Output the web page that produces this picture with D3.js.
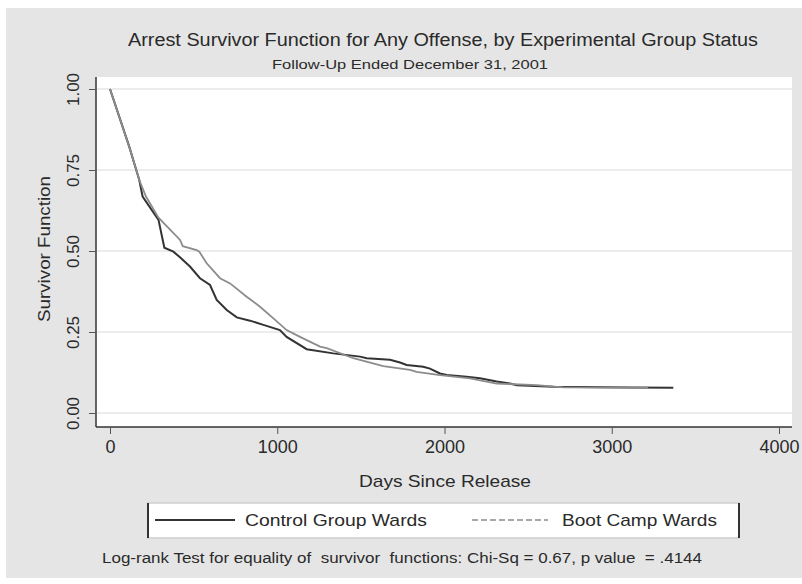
<!DOCTYPE html>
<html>
<head>
<meta charset="utf-8">
<script src="https://cdn.jsdelivr.net/npm/d3@7"></script>
<style>
  body { margin: 0; background: #fff; }
  text { font-family: "Liberation Sans", Arial, sans-serif; fill: #2a2a2a; }
</style>
</head>
<body>
<script>
// Kaplan-Meier survivor curves
let controlDays = [0, 115, 175, 195, 290, 325, 379, 415, 478, 538, 598, 638, 698, 758, 837, 917, 1016, 1056, 1176, 1335, 1495, 1535, 1674, 1734, 1774, 1873, 1913, 1973, 2013, 2132, 2212, 2312, 2392, 2432, 2650, 3109, 3368];
let controlSurv = [1.0, 0.822, 0.719, 0.668, 0.596, 0.51, 0.498, 0.482, 0.452, 0.416, 0.395, 0.349, 0.318, 0.295, 0.285, 0.272, 0.256, 0.235, 0.197, 0.184, 0.174, 0.169, 0.164, 0.156, 0.148, 0.143, 0.137, 0.122, 0.117, 0.112, 0.107, 0.097, 0.091, 0.086, 0.081, 0.079, 0.078];

let bootDays = [0, 115, 175, 215, 290, 419, 435, 518, 534, 578, 658, 718, 817, 897, 977, 1056, 1136, 1256, 1296, 1455, 1634, 1794, 1833, 1973, 2152, 2312, 2551, 2711, 3217];
let bootSurv = [1.0, 0.822, 0.719, 0.668, 0.603, 0.534, 0.515, 0.503, 0.498, 0.462, 0.416, 0.40, 0.359, 0.328, 0.292, 0.256, 0.235, 0.205, 0.200, 0.169, 0.145, 0.133, 0.127, 0.117, 0.107, 0.091, 0.086, 0.079, 0.078];

let xTicks = [0, 1000, 2000, 3000, 4000];
let yTicks = [0, 0.25, 0.5, 0.75, 1];

let seriesNames = ["Control Group Wards", "Boot Camp Wards"];

let WIDTH = 802, HEIGHT = 584;

let svg = d3.select("body").append("svg")
            .attr("width", WIDTH)
            .attr("height", HEIGHT);

// fondo gris del grafico
svg.append("rect")
   .attr("x", 6).attr("y", 8)
   .attr("width", WIDTH - 6).attr("height", 570)
   .attr("fill", "#e5e5e5");

// area del plot
let plotL = 96, plotR = 792, plotT = 77, plotB = 427;
svg.append("rect")
   .attr("x", plotL).attr("y", plotT)
   .attr("width", plotR - plotL).attr("height", plotB - plotT)
   .attr("fill", "#fff");

let x = d3.scaleLinear().domain([0, 4000]).range([110, 779]);
let y = d3.scaleLinear().domain([0, 1]).range([413, 89]);

// grid
svg.append("g").selectAll("line")
   .data(yTicks).enter()
   .append("line")
     .attr("x1", plotL + 1).attr("x2", plotR)
     .attr("y1", d => y(d)).attr("y2", d => y(d))
     .attr("stroke", "#e6e6e6")
     .attr("stroke-width", 1.5);

// axis lines
svg.append("line")
   .attr("x1", plotL).attr("x2", plotR)
   .attr("y1", plotB).attr("y2", plotB)
   .attr("stroke", "#333").attr("stroke-width", 1.5);
svg.append("line")
   .attr("x1", plotL).attr("x2", plotL)
   .attr("y1", plotT).attr("y2", plotB)
   .attr("stroke", "#333").attr("stroke-width", 1.5);

let xAxis = svg.append("g")
   .attr("transform", "translate(0," + plotB + ")")
   .call(d3.axisBottom(x).tickValues(xTicks).tickSize(7).tickPadding(6).tickFormat(d3.format("d")));
xAxis.select(".domain").remove();
xAxis.selectAll(".tick line").attr("stroke", "#555");
xAxis.selectAll(".tick text")
     .attr("font-size", 18)
     .attr("font-family", "Liberation Sans, Arial, sans-serif")
     .attr("fill", "#2a2a2a");

let yAxis = svg.append("g")
   .attr("transform", "translate(" + plotL + ",0)")
   .call(d3.axisLeft(y).tickValues(yTicks).tickSize(7).tickFormat(d3.format(".2f")));
yAxis.select(".domain").remove();
yAxis.selectAll(".tick line").attr("stroke", "#555");
yAxis.selectAll(".tick text")
     .attr("x", null).attr("dy", null)
     .attr("transform", "translate(-17,0) rotate(-90)")
     .attr("text-anchor", "middle")
     .attr("font-size", 17)
     .attr("font-family", "Liberation Sans, Arial, sans-serif")
     .attr("fill", "#2a2a2a");

// curvas
let line = d3.line().x(d => x(d[0])).y(d => y(d[1]));
let control = d3.zip(controlDays, controlSurv);
let boot = d3.zip(bootDays, bootSurv);

svg.append("path")
   .datum(control)
   .attr("d", line)
   .attr("fill", "none")
   .attr("stroke", "#333")
   .attr("stroke-width", 2);

svg.append("path")
   .datum(boot)
   .attr("d", line)
   .attr("fill", "none")
   .attr("stroke", "#8c8c8c")
   .attr("stroke-width", 1.8);

// titulos
svg.append("text")
   .attr("x", 443).attr("y", 46)
   .attr("text-anchor", "middle")
   .attr("font-size", 18)
   .attr("textLength", 630).attr("lengthAdjust", "spacingAndGlyphs")
   .text("Arrest Survivor Function for Any Offense, by Experimental Group Status");

svg.append("text")
   .attr("x", 410).attr("y", 69)
   .attr("text-anchor", "middle")
   .attr("font-size", 13)
   .attr("textLength", 276).attr("lengthAdjust", "spacingAndGlyphs")
   .text("Follow-Up Ended December 31, 2001");

svg.append("text")
   .attr("x", 445).attr("y", 487)
   .attr("text-anchor", "middle")
   .attr("font-size", 17)
   .attr("textLength", 172).attr("lengthAdjust", "spacingAndGlyphs")
   .text("Days Since Release");

svg.append("text")
   .attr("transform", "translate(50," + ((plotT + plotB) / 2 - 3) + ") rotate(-90)")
   .attr("text-anchor", "middle")
   .attr("font-size", 17)
   .attr("textLength", 146).attr("lengthAdjust", "spacingAndGlyphs")
   .text("Survivor Function");

// leyenda
let legend = svg.append("g");
legend.append("rect")
      .attr("x", 148).attr("y", 503)
      .attr("width", 739 - 148).attr("height", 35)
      .attr("fill", "#fff")
      .attr("stroke", "#cfcfcf").attr("stroke-width", 1.5);
legend.selectAll("line.side")
      .data([148, 739]).enter()
      .append("line")
        .attr("class", "side")
        .attr("x1", d => d).attr("x2", d => d)
        .attr("y1", 503).attr("y2", 538)
        .attr("stroke", "#333").attr("stroke-width", 2);

let legendItems = [
    {name: seriesNames[0], x1: 155, x2: 235, tx: 245, tw: 182, color: "#333", dash: null, w: 2},
    {name: seriesNames[1], x1: 472, x2: 548, tx: 562, tw: 155, color: "#8c8c8c", dash: "6,3", w: 1.5}
];
legendItems.forEach(it => {
    legend.append("line")
          .attr("x1", it.x1).attr("x2", it.x2)
          .attr("y1", 520).attr("y2", 520)
          .attr("stroke", it.color)
          .attr("stroke-width", it.w)
          .attr("stroke-dasharray", it.dash);
    legend.append("text")
          .attr("x", it.tx).attr("y", 526)
          .attr("font-size", 17)
          .attr("textLength", it.tw).attr("lengthAdjust", "spacingAndGlyphs")
          .text(it.name);
});

// nota al pie
svg.append("text")
   .attr("x", 102).attr("y", 563)
   .attr("font-size", 14)
   .attr("xml:space", "preserve")
   .style("white-space", "pre")
   .attr("textLength", 600).attr("lengthAdjust", "spacingAndGlyphs")
   .text("Log-rank Test for equality of  survivor  functions: Chi-Sq = 0.67, p value  = .4144");
</script>
</body>
</html>
